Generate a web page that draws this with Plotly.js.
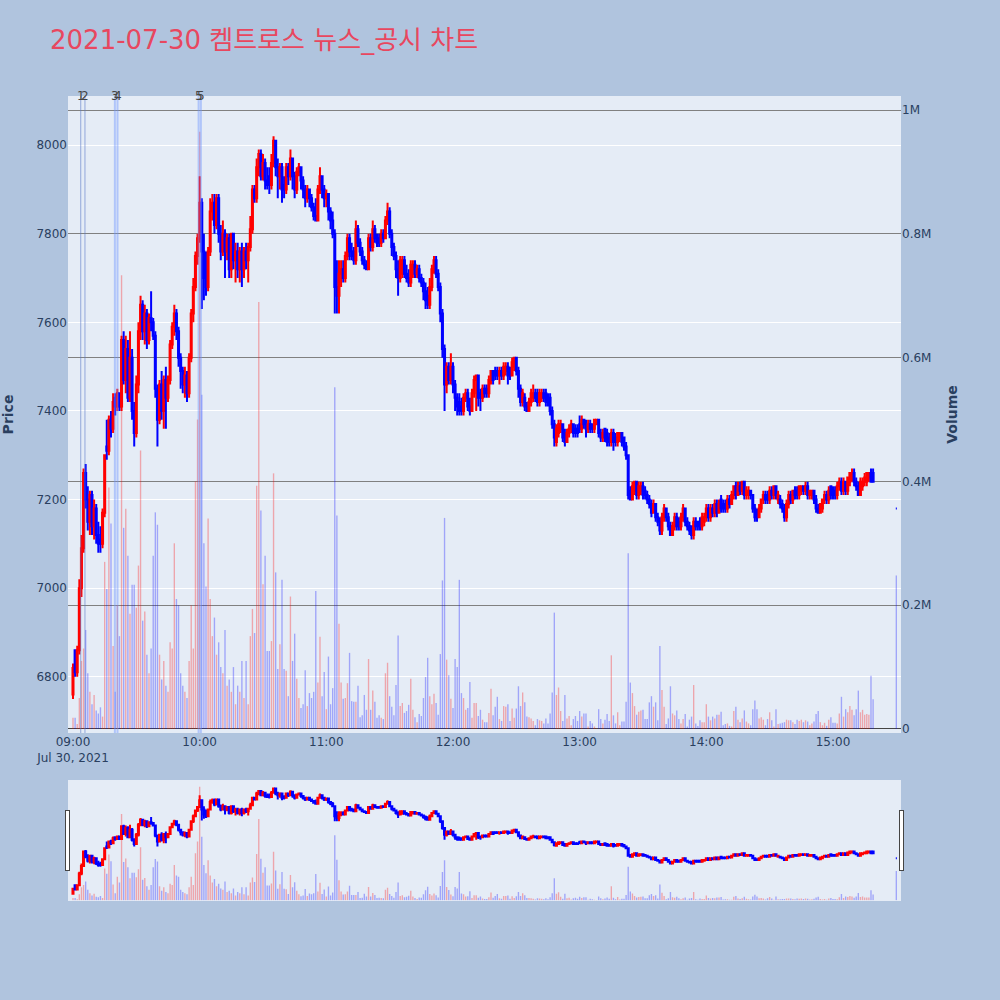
<!DOCTYPE html>
<html><head><meta charset="utf-8">
<script src="https://cdn.plot.ly/plotly-3.0.1.min.js"></script>
<style>body{margin:0;background:#B0C4DE}</style>
</head><body><div id="chart" style="width:1000px;height:1000px"></div>
<script>
const tradeDate = '2021-07-30';
const chartTitle = '2021-07-30 켐트로스 뉴스_공시 차트';
const times = [
'09:00','09:01','09:02','09:03','09:04','09:05','09:06','09:07','09:08','09:09','09:10','09:11','09:12','09:13','09:14','09:15','09:16','09:17','09:18','09:19','09:20','09:21','09:22','09:23','09:24','09:25','09:26','09:27','09:28','09:29','09:30','09:31','09:32','09:33','09:34','09:35','09:36','09:37','09:38','09:39','09:40','09:41','09:42','09:43','09:44','09:45','09:46','09:47','09:48','09:49','09:50','09:51','09:52','09:53','09:54','09:55','09:56','09:57','09:58','09:59',
'10:00','10:01','10:02','10:03','10:04','10:05','10:06','10:07','10:08','10:09','10:10','10:11','10:12','10:13','10:14','10:15','10:16','10:17','10:18','10:19','10:20','10:21','10:22','10:23','10:24','10:25','10:26','10:27','10:28','10:29','10:30','10:31','10:32','10:33','10:34','10:35','10:36','10:37','10:38','10:39','10:40','10:41','10:42','10:43','10:44','10:45','10:46','10:47','10:48','10:49','10:50','10:51','10:52','10:53','10:54','10:55','10:56','10:57','10:58','10:59',
'11:00','11:01','11:02','11:03','11:04','11:05','11:06','11:07','11:08','11:09','11:10','11:11','11:12','11:13','11:14','11:15','11:16','11:17','11:18','11:19','11:20','11:21','11:22','11:23','11:24','11:25','11:26','11:27','11:28','11:29','11:30','11:31','11:32','11:33','11:34','11:35','11:36','11:37','11:38','11:39','11:40','11:41','11:42','11:43','11:44','11:45','11:46','11:47','11:48','11:49','11:50','11:51','11:52','11:53','11:54','11:55','11:56','11:57','11:58','11:59',
'12:00','12:01','12:02','12:03','12:04','12:05','12:06','12:07','12:08','12:09','12:10','12:11','12:12','12:13','12:14','12:15','12:16','12:17','12:18','12:19','12:20','12:21','12:22','12:23','12:24','12:25','12:26','12:27','12:28','12:29','12:30','12:31','12:32','12:33','12:34','12:35','12:36','12:37','12:38','12:39','12:40','12:41','12:42','12:43','12:44','12:45','12:46','12:47','12:48','12:49','12:50','12:51','12:52','12:53','12:54','12:55','12:56','12:57','12:58','12:59',
'13:00','13:01','13:02','13:03','13:04','13:05','13:06','13:07','13:08','13:09','13:10','13:11','13:12','13:13','13:14','13:15','13:16','13:17','13:18','13:19','13:20','13:21','13:22','13:23','13:24','13:25','13:26','13:27','13:28','13:29','13:30','13:31','13:32','13:33','13:34','13:35','13:36','13:37','13:38','13:39','13:40','13:41','13:42','13:43','13:44','13:45','13:46','13:47','13:48','13:49','13:50','13:51','13:52','13:53','13:54','13:55','13:56','13:57','13:58','13:59',
'14:00','14:01','14:02','14:03','14:04','14:05','14:06','14:07','14:08','14:09','14:10','14:11','14:12','14:13','14:14','14:15','14:16','14:17','14:18','14:19','14:20','14:21','14:22','14:23','14:24','14:25','14:26','14:27','14:28','14:29','14:30','14:31','14:32','14:33','14:34','14:35','14:36','14:37','14:38','14:39','14:40','14:41','14:42','14:43','14:44','14:45','14:46','14:47','14:48','14:49','14:50','14:51','14:52','14:53','14:54','14:55','14:56','14:57','14:58','14:59',
'15:00','15:01','15:02','15:03','15:04','15:05','15:06','15:07','15:08','15:09','15:10','15:11','15:12','15:13','15:14','15:15','15:16','15:17','15:18','15:19','15:30'];

const opens = [
6760,6860,6810,6860,7000,7090,7260,7200,7150,7210, 7140,7180,7120,7110,7100,7170,7320,7310,7380,7360,
7430,7410,7440,7410,7560,7470,7540,7430,7520,7400, 7350,7460,7580,7640,7580,7620,7560,7610,7600,7570,
7450,7380,7460,7400,7470,7430,7470,7550,7590,7620, 7580,7520,7490,7460,7480,7440,7520,7620,7680,7750,
7790,7870,7760,7720,7680,7760,7850,7870,7820,7880, 7800,7760,7800,7760,7790,7720,7800,7740,7760,7720,
7760,7720,7760,7740,7770,7810,7900,7880,7950,7980, 7930,7960,7920,7930,7910,7960,8010,7950,7930,7950,
7910,7900,7950,7930,7970,7930,7900,7940,7950,7920, 7900,7880,7900,7880,7860,7840,7830,7900,7930,7900,
7880,7890,7850,7830,7800,7680,7660,7710,7720,7700, 7750,7790,7760,7760,7740,7810,7780,7760,7740,7730,
7720,7790,7770,7810,7790,7790,7780,7800,7790,7830, 7850,7800,7770,7750,7720,7700,7710,7740,7710,7700,
7690,7720,7730,7710,7720,7700,7690,7670,7660,7640, 7680,7720,7740,7710,7680,7620,7540,7460,7500,7470,
7500,7460,7430,7420,7410,7400,7430,7440,7410,7400, 7440,7470,7480,7440,7430,7450,7450,7440,7470,7490,
7490,7490,7480,7490,7480,7490,7500,7490,7480,7500, 7520,7490,7450,7420,7430,7410,7400,7420,7430,7440,
7440,7420,7430,7440,7440,7430,7430,7400,7370,7330, 7350,7360,7370,7350,7330,7350,7360,7370,7360,7360,
7370,7360,7380,7370,7360,7370,7370,7360,7370,7380, 7350,7340,7360,7350,7340,7330,7350,7340,7330,7340,
7350,7340,7320,7300,7220,7200,7220,7240,7210,7220, 7230,7220,7210,7200,7190,7170,7190,7160,7150,7130,
7160,7180,7160,7140,7120,7140,7160,7150,7140,7160, 7180,7150,7140,7140,7120,7150,7150,7150,7140,7150,
7160,7180,7160,7180,7170,7190,7170,7200,7190,7190, 7180,7200,7190,7210,7230,7210,7230,7220,7240,7210,
7210,7220,7210,7180,7170,7160,7180,7200,7210,7210, 7200,7220,7210,7230,7200,7200,7190,7180,7160,7190,
7210,7200,7220,7220,7210,7220,7230,7220,7230,7210, 7210,7220,7200,7180,7170,7180,7200,7210,7200,7230,
7220,7220,7210,7230,7240,7220,7240,7220,7240,7250, 7260,7240,7230,7210,7230,7240,7240,7250,7260,7260,
7180];

const highs = [
6830,6860,6870,7020,7120,7270,7280,7230,7220,7220, 7200,7190,7150,7140,7180,7300,7380,7390,7400,7440,
7440,7450,7440,7570,7580,7570,7560,7580,7540,7420, 7480,7600,7660,7650,7640,7630,7620,7670,7610,7580,
7460,7470,7490,7480,7500,7480,7560,7600,7640,7630, 7590,7530,7500,7500,7490,7530,7630,7700,7760,7800,
7930,7880,7800,7760,7770,7880,7890,7890,7890,7890, 7820,7830,7810,7800,7800,7800,7800,7780,7780,7770,
7780,7770,7780,7780,7840,7910,7910,7970,7990,7990, 7980,7970,7950,7950,7980,8020,8010,7970,7960,7960,
7930,7960,7960,7990,7970,7940,7950,7960,7950,7930, 7910,7910,7900,7890,7870,7880,7910,7950,7930,7910,
7900,7890,7860,7850,7810,7740,7740,7740,7740,7760, 7800,7800,7780,7770,7830,7820,7790,7770,7750,7740,
7800,7800,7830,7820,7800,7800,7810,7810,7840,7870, 7860,7810,7780,7760,7740,7750,7750,7750,7730,7720,
7740,7740,7740,7730,7730,7710,7700,7690,7680,7700, 7730,7750,7750,7720,7690,7630,7550,7510,7510,7530,
7510,7470,7440,7440,7430,7440,7450,7450,7430,7450, 7480,7480,7480,7450,7460,7460,7460,7480,7490,7490,
7500,7500,7500,7500,7510,7510,7510,7500,7520,7520, 7520,7500,7460,7450,7440,7420,7430,7450,7460,7450,
7450,7450,7450,7450,7450,7440,7440,7410,7380,7370, 7380,7380,7370,7360,7360,7370,7380,7370,7370,7370,
7390,7390,7380,7380,7380,7380,7370,7380,7380,7380, 7360,7360,7360,7360,7350,7360,7360,7350,7350,7350,
7350,7340,7330,7300,7230,7240,7240,7240,7240,7240, 7240,7230,7220,7210,7200,7200,7190,7170,7160,7170,
7190,7180,7170,7150,7150,7170,7170,7160,7170,7190, 7180,7160,7150,7140,7160,7160,7150,7160,7170,7170,
7190,7190,7190,7190,7200,7200,7200,7210,7200,7200, 7210,7210,7220,7230,7240,7240,7240,7240,7240,7230,
7230,7220,7210,7190,7180,7190,7200,7220,7220,7220, 7230,7230,7230,7230,7220,7210,7200,7190,7200,7220,
7220,7220,7230,7230,7230,7230,7230,7240,7240,7220, 7220,7220,7210,7190,7190,7200,7220,7220,7230,7230,
7230,7230,7240,7250,7250,7250,7240,7250,7260,7270, 7270,7250,7240,7250,7250,7260,7260,7260,7270,7270,
7180];

const lows = [
6750,6800,6800,6850,6980,7080,7180,7130,7120,7120, 7110,7100,7080,7080,7090,7160,7290,7300,7340,7350,
7390,7400,7400,7400,7460,7440,7420,7420,7380,7320, 7340,7440,7560,7560,7550,7540,7550,7580,7560,7430,
7320,7370,7380,7360,7360,7420,7460,7540,7570,7560, 7500,7450,7440,7430,7420,7430,7510,7600,7670,7730,
7780,7630,7650,7660,7670,7750,7830,7800,7810,7780, 7740,7750,7700,7740,7700,7700,7720,7690,7700,7690,
7680,7700,7720,7690,7760,7800,7870,7870,7930,7920, 7920,7900,7900,7890,7900,7950,7930,7880,7900,7870,
7880,7890,7910,7920,7900,7880,7890,7930,7900,7880, 7860,7870,7860,7850,7830,7830,7830,7890,7880,7860,
7860,7830,7810,7790,7620,7620,7620,7680,7690,7690, 7740,7740,7740,7730,7730,7770,7750,7730,7720,7720,
7720,7760,7760,7780,7770,7770,7770,7780,7790,7820, 7790,7750,7740,7700,7660,7690,7700,7700,7690,7680,
7680,7700,7700,7700,7690,7680,7650,7630,7630,7630, 7670,7710,7700,7670,7600,7520,7400,7440,7460,7460,
7440,7400,7390,7390,7390,7390,7420,7400,7390,7400, 7430,7400,7410,7400,7420,7430,7430,7430,7460,7460,
7470,7470,7460,7470,7470,7480,7460,7470,7480,7490, 7480,7430,7410,7410,7400,7400,7400,7410,7420,7420,
7410,7410,7420,7420,7410,7410,7390,7360,7320,7320, 7340,7350,7330,7320,7330,7340,7350,7340,7340,7340,
7350,7350,7360,7340,7350,7350,7350,7350,7370,7340, 7330,7330,7330,7320,7320,7320,7310,7320,7320,7330,
7320,7310,7290,7200,7200,7200,7210,7200,7200,7210, 7200,7200,7190,7180,7160,7170,7150,7140,7120,7120,
7150,7150,7130,7120,7120,7130,7130,7130,7130,7150, 7140,7130,7120,7110,7110,7130,7130,7130,7130,7140,
7150,7150,7150,7160,7160,7160,7170,7170,7170,7170, 7170,7180,7190,7200,7200,7210,7210,7210,7200,7200,
7200,7200,7170,7150,7150,7160,7170,7190,7190,7190, 7190,7200,7200,7200,7190,7180,7170,7150,7150,7180,
7190,7190,7200,7200,7200,7210,7210,7210,7200,7200, 7200,7190,7170,7170,7170,7170,7190,7190,7190,7200,
7200,7200,7200,7220,7210,7210,7210,7210,7230,7240, 7230,7220,7210,7210,7220,7230,7230,7240,7240,7240,
7180];

const closes = [
6820,6810,6860,7000,7090,7260,7200,7150,7210,7140, 7180,7120,7100,7100,7170,7300,7310,7380,7360,7420,
7410,7440,7410,7560,7470,7540,7430,7520,7400,7350, 7460,7580,7640,7580,7620,7560,7610,7600,7570,7450,
7380,7460,7400,7470,7430,7470,7550,7590,7620,7580, 7520,7490,7460,7480,7440,7520,7620,7680,7750,7790,
7870,7760,7700,7680,7760,7850,7870,7820,7880,7800, 7760,7800,7760,7790,7720,7800,7740,7760,7720,7760,
7720,7760,7740,7770,7810,7900,7880,7950,7980,7930, 7960,7920,7910,7910,7960,8010,7950,7930,7950,7900,
7900,7950,7930,7970,7930,7900,7940,7950,7920,7900, 7880,7900,7880,7860,7840,7830,7900,7930,7900,7880,
7890,7850,7830,7800,7680,7660,7710,7720,7700,7750, 7790,7760,7750,7740,7810,7780,7760,7740,7730,7720,
7790,7770,7810,7790,7780,7780,7800,7790,7830,7850, 7800,7770,7750,7720,7700,7740,7740,7710,7700,7690,
7730,7730,7710,7720,7700,7690,7670,7650,7640,7680, 7720,7740,7710,7680,7620,7540,7460,7500,7470,7500,
7460,7430,7410,7400,7400,7430,7440,7410,7400,7440, 7470,7480,7430,7430,7450,7440,7440,7470,7490,7470,
7480,7480,7490,7480,7500,7500,7480,7480,7510,7520, 7490,7450,7420,7440,7410,7400,7420,7440,7440,7430,
7420,7440,7440,7430,7420,7420,7400,7370,7340,7360, 7370,7370,7340,7330,7350,7360,7370,7350,7350,7350,
7360,7380,7370,7360,7370,7360,7360,7380,7380,7350, 7340,7350,7340,7330,7330,7350,7330,7330,7350,7350,
7330,7320,7300,7210,7200,7230,7240,7210,7230,7230, 7210,7210,7200,7190,7170,7190,7160,7150,7130,7160,
7180,7160,7140,7120,7140,7160,7140,7140,7160,7180, 7150,7140,7130,7120,7150,7140,7140,7140,7160,7160,
7180,7160,7180,7170,7190,7170,7190,7180,7180,7180, 7200,7190,7210,7230,7210,7230,7220,7240,7210,7220,
7220,7210,7180,7160,7160,7180,7200,7210,7200,7200, 7220,7210,7230,7210,7210,7190,7180,7160,7190,7210,
7200,7220,7210,7210,7230,7230,7220,7230,7210,7220, 7220,7200,7180,7170,7190,7200,7210,7200,7220,7210,
7210,7210,7230,7240,7220,7240,7220,7250,7260,7260, 7240,7230,7210,7240,7240,7250,7260,7260,7240,7240,
7180];

const volumes = [
18000,18000,8000,50000,110000,130000,160000,90000,60000,40000, 55000,30000,25000,35000,20000,270000,226000,390000,332000,134000,
60000,200000,150000,733000,325000,356000,280000,186000,233000,233000, 196000,264000,450000,175000,190000,120000,90000,130000,280000,350000,
330000,120000,80000,110000,70000,60000,140000,130000,300000,210000, 200000,90000,70000,60000,50000,110000,200000,130000,400000,500000,
965000,540000,300000,230000,340000,210000,150000,180000,120000,140000, 100000,90000,160000,70000,80000,60000,100000,40000,70000,60000,
110000,50000,110000,40000,150000,194000,155000,393000,690000,353000, 234000,280000,126000,126000,142000,413000,253000,97000,137000,241000,
97000,94000,53000,214000,110000,154000,81000,50000,34000,40000, 95000,37000,58000,50000,60000,223000,75000,149000,53000,92000,
32000,117000,40000,66000,552000,345000,170000,75000,49000,50000, 74000,123000,45000,44000,44000,70000,19000,22000,55000,31000,
113000,31000,62000,44000,18000,22000,18000,16000,90000,107000, 53000,36000,22000,71000,151000,37000,42000,26000,29000,39000,
81000,31000,19000,11000,24000,21000,50000,84000,115000,53000, 40000,57000,42000,23000,121000,240000,341000,112000,87000,49000,
34000,113000,100000,241000,58000,50000,31000,34000,76000,18000, 42000,42000,21000,31000,15000,11000,11000,26000,65000,22000,
36000,52000,16000,13000,37000,36000,40000,13000,33000,18000, 33000,69000,37000,59000,43000,20000,19000,17000,13000,6000,
16000,14000,13000,9000,17000,9000,25000,59000,188000,55000, 67000,29000,13000,55000,17000,21000,6000,16000,21000,13000,
29000,20000,25000,25000,4000,13000,9000,4000,1000,32000, 16000,9000,15000,24000,13000,119000,22000,9000,27000,6000,
12000,12000,44000,284000,75000,58000,37000,23000,28000,30000, 31000,16000,16000,43000,53000,36000,43000,14000,134000,63000,
36000,8000,17000,69000,25000,22000,30000,16000,9000,16000, 24000,4000,15000,20000,71000,9000,5000,14000,11000,11000,
40000,20000,14000,20000,17000,23000,23000,28000,6000,8000, 9000,5000,4000,29000,36000,15000,11000,17000,30000,12000,
9000,6000,32000,46000,32000,17000,19000,15000,6000,16000, 27000,14000,4000,32000,8000,9000,10000,11000,15000,14000,
14000,11000,8000,15000,13000,15000,11000,14000,12000,6000, 9000,12000,24000,29000,11000,6000,10000,5000,15000,19000,
10000,10000,9000,25000,52000,20000,32000,27000,37000,31000, 22000,32000,62000,27000,31000,23000,24000,23000,86000,48000,
248000];

const newsTimes = ['09:03:40','09:05:40','09:19:50','09:21:05','09:59:30','10:00:35'];
const newsLabels = ['1','2','3','4','5','5'];

const xs = times.map(t => tradeDate + ' ' + t);
const volColors = closes.map((c, i) => c > opens[i] ? 'rgba(255,0,0,0.3)' : 'rgba(0,0,255,0.3)');
const xRange = [tradeDate + ' 08:57:38', tradeDate + ' 15:32:13'];

const traces = [
  {type: 'candlestick', x: xs, open: opens, high: highs, low: lows, close: closes,
   increasing: {line: {color: 'red', width: 2}, fillcolor: 'red'},
   decreasing: {line: {color: 'blue', width: 2}, fillcolor: 'blue'},
   name: 'Price', hoverinfo: 'skip'},
  {type: 'bar', x: xs, y: volumes, yaxis: 'y2', marker: {color: volColors}, name: 'Volume', hoverinfo: 'skip'}
];

const shapes = newsTimes.map((t, i) => ({
  type: 'line', xref: 'x', yref: 'paper', x0: tradeDate + ' ' + t, x1: tradeDate + ' ' + t, y0: 0, y1: 1,
  line: {color: i < 2 ? 'rgba(90,120,200,0.6)' : 'rgba(110,150,255,0.45)', width: i < 2 ? 1 : 2}
}));
const annotations = newsTimes.map((t, i) => ({
  x: tradeDate + ' ' + t, xref: 'x', y: 1, yref: 'paper', yanchor: 'middle', text: newsLabels[i],
  showarrow: false, font: {size: 12, color: '#444'}
}));

const layout = {
  width: 1000, height: 1000,
  paper_bgcolor: '#B0C4DE', plot_bgcolor: '#E5ECF6',
  font: {family: 'DejaVu Sans, "Noto Sans CJK KR", sans-serif', size: 12, color: '#2a3f5f'},
  title: {text: chartTitle, x: 0.05, xanchor: 'left', y: 0.96, yanchor: 'middle',
          font: {size: 26, color: '#E8475F', family: 'DejaVu Sans, "Noto Sans CJK KR", sans-serif'}},
  margin: {l: 68, r: 99, t: 96, b: 100},
  showlegend: false,
  bargap: 0.35,
  xaxis: {type: 'date', range: xRange, showgrid: false,
          rangeslider: {visible: true, thickness: 0.15, bgcolor: '#E5ECF6', range: xRange}},
  yaxis: {range: [6673, 8111], gridcolor: 'white', title: {text: '<b>Price</b>', standoff: 26}},
  yaxis2: {range: [-6500, 1022700], overlaying: 'y', side: 'right', gridcolor: 'grey',
           title: {text: '<b>Volume</b>', standoff: 16}},
  shapes: shapes,
  annotations: annotations
};

Plotly.newPlot('chart', traces, layout, {displayModeBar: false});
</script>
</body></html>
